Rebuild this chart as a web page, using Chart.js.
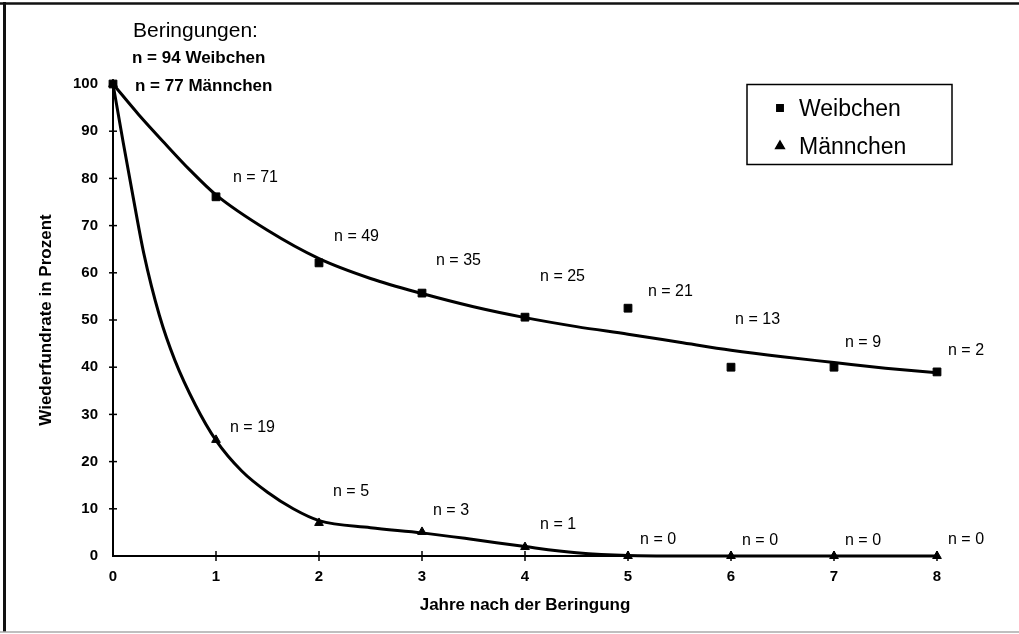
<!DOCTYPE html>
<html>
<head>
<meta charset="utf-8">
<script src="https://cdn.jsdelivr.net/npm/chart.js@4.4.0/dist/chart.umd.min.js"></script>
<style>
html,body{margin:0;padding:0;background:#fff;}
#wrap{width:1019px;height:634px;position:relative;}
</style>
</head>
<body>
<div id="wrap"><canvas id="c"></canvas></div>
<script>
// ---- data ----
const years = [0, 1, 2, 3, 4, 5, 6, 7, 8];
const weibchenValues = [100, 76.1, 62.1, 55.7, 50.6, 52.5, 40.0, 40.0, 39.0];
const maennchenValues = [100, 24.6, 7.0, 5.1, 1.9, 0, 0, 0, 0];
const weibchenN = [94, 71, 49, 35, 25, 21, 13, 9, 2];
const maennchenN = [77, 19, 5, 3, 1, 0, 0, 0, 0];

// fitted curves
const weibchenCurveX = [0, 0.25, 0.5, 0.75, 1, 1.5, 2, 2.5, 3, 3.5, 4, 4.5, 5, 5.5, 6, 6.5, 7, 7.5, 8];
const weibchenCurveY = [100, 93.5, 87.5, 81.7, 76.5, 69, 63, 58.8, 55.6, 52.8, 50.5, 48.6, 47, 45.3, 43.6, 42.2, 41, 39.8, 38.8];
const maennchenCurveX = [0, 0.1, 0.2, 0.3, 0.45, 0.6, 0.8, 1, 1.25, 1.5, 1.75, 2, 2.5, 3, 3.5, 4, 4.5, 5, 5.5, 6, 7, 8];
const maennchenCurveY = [100, 87.5, 75.5, 64, 51, 41.5, 32, 24.5, 18, 13.5, 10, 7.5, 6, 4.9, 3.5, 2, 0.7, 0.1, 0, 0, 0, 0];

// anchors (data units) of the "n = ..." annotations for years 1..8
const weibchenLabelX = [1.165, 2.146, 3.136, 4.146, 5.194, 6.04, 7.107, 8.107];
const weibchenLabelY = [80.1, 67.6, 62.5, 59.1, 56.1, 50.0, 45.3, 43.6];
const maennchenLabelX = [1.136, 2.136, 3.107, 4.146, 5.117, 6.107, 7.107, 8.107];
const maennchenLabelY = [27.3, 13.6, 9.7, 6.6, 3.4, 3.2, 3.2, 3.4];

const seriesNames = ['Weibchen', 'Männchen'];
const noteTitle = 'Beringungen:';
const noteLines = ['n = ' + weibchenN[0] + ' Weibchen', 'n = ' + maennchenN[0] + ' Männchen'];
const xTitle = 'Jahre nach der Beringung';
const yTitle = 'Wiederfundrate in Prozent';
const xTickValues = [0, 1, 2, 3, 4, 5, 6, 7, 8];
const yTickValues = [0, 10, 20, 30, 40, 50, 60, 70, 80, 90, 100];

const FONT = '"Liberation Sans", Arial, Helvetica, sans-serif';

const pts = (xs, ys) => xs.map((x, i) => ({x: x, y: ys[i]}));

const framePlugin = {
  id: 'frame',
  beforeDraw(chart) {
    const ctx = chart.ctx;
    ctx.save();
    ctx.fillStyle = '#fff';
    ctx.fillRect(0, 0, chart.width, chart.height);
    ctx.strokeStyle = '#111';
    ctx.lineWidth = 2.5;
    ctx.beginPath(); ctx.moveTo(0, 3.5); ctx.lineTo(chart.width, 3.5); ctx.stroke();
    ctx.lineWidth = 3;
    ctx.beginPath(); ctx.moveTo(4.5, 2); ctx.lineTo(4.5, 632); ctx.stroke();
    ctx.strokeStyle = '#aaa';
    ctx.lineWidth = 1.5;
    ctx.beginPath(); ctx.moveTo(0, 632); ctx.lineTo(chart.width, 632); ctx.stroke();
    ctx.restore();
  }
};

const decoPlugin = {
  id: 'deco',
  afterDraw(chart) {
    const {ctx, scales: {x, y}} = chart;
    ctx.save();
    ctx.strokeStyle = '#000';
    ctx.fillStyle = '#000';
    // cross tick marks
    ctx.lineWidth = 1.5;
    const x0 = x.getPixelForValue(0), y0 = y.getPixelForValue(0);
    yTickValues.forEach(v => {
      if (v === 0) return;
      const py = y.getPixelForValue(v);
      ctx.beginPath(); ctx.moveTo(x0 - 4, py); ctx.lineTo(x0 + 4, py); ctx.stroke();
    });
    xTickValues.forEach(v => {
      if (v === 0) return;
      const px = x.getPixelForValue(v);
      ctx.beginPath(); ctx.moveTo(px, y0 - 5); ctx.lineTo(px, y0 + 5); ctx.stroke();
    });
    // n labels
    ctx.font = '16px ' + FONT;
    ctx.textAlign = 'left';
    ctx.textBaseline = 'middle';
    for (let i = 1; i < years.length; i++) {
      ctx.fillText('n = ' + weibchenN[i], x.getPixelForValue(weibchenLabelX[i - 1]), y.getPixelForValue(weibchenLabelY[i - 1]));
      ctx.fillText('n = ' + maennchenN[i], x.getPixelForValue(maennchenLabelX[i - 1]), y.getPixelForValue(maennchenLabelY[i - 1]));
    }
    // top-left note
    ctx.textBaseline = 'alphabetic';
    ctx.font = '21px ' + FONT;
    ctx.fillText(noteTitle, 133, 37);
    ctx.font = 'bold 17px ' + FONT;
    ctx.fillText(noteLines[0], 132, 63);
    ctx.fillText(noteLines[1], 135, 91);
    // legend box
    ctx.lineWidth = 1.5;
    ctx.strokeRect(747, 84.5, 205, 80);
    const styles = ['rect', 'triangle'];
    const radii = [4.5, 5];
    const rows = [108, 146];
    ctx.font = '23px ' + FONT;
    for (let k = 0; k < 2; k++) {
      Chart.helpers.drawPoint(ctx, {pointStyle: styles[k], radius: radii[k], borderWidth: 1}, 780, rows[k]);
      ctx.fill();
      ctx.fillText(seriesNames[k], 799, rows[k] + 8);
    }
    ctx.restore();
  }
};

new Chart(document.getElementById('c'), {
  type: 'scatter',
  data: {
    datasets: [
      {
        label: seriesNames[0] + ' Kurve',
        data: pts(weibchenCurveX, weibchenCurveY),
        showLine: true, borderColor: '#000', borderWidth: 3,
        pointRadius: 0, cubicInterpolationMode: 'monotone', order: 3
      },
      {
        label: seriesNames[1] + ' Kurve',
        data: pts(maennchenCurveX, maennchenCurveY),
        showLine: true, borderColor: '#000', borderWidth: 3,
        pointRadius: 0, cubicInterpolationMode: 'monotone', order: 3
      },
      {
        label: seriesNames[0],
        data: pts(years, weibchenValues),
        showLine: false, pointStyle: 'rect', pointRadius: 5.5,
        backgroundColor: '#000', borderColor: '#000', order: 1
      },
      {
        label: seriesNames[1],
        data: pts(years, maennchenValues),
        showLine: false, pointStyle: 'triangle', pointRadius: 5,
        backgroundColor: '#000', borderColor: '#000', order: 1
      }
    ]
  },
  options: {
    responsive: true,
    maintainAspectRatio: false,
    animation: false,
    clip: false,
    layout: {padding: {top: 84, right: 82, left: 0, bottom: 0}},
    plugins: {legend: {display: false}, tooltip: {enabled: false}},
    scales: {
      x: {
        type: 'linear', min: 0, max: 8,
        afterBuildTicks: s => { s.ticks = xTickValues.map(v => ({value: v})); },
        afterFit: s => { s.height = 78; },
        grid: {display: true, drawOnChartArea: false, drawTicks: false},
        border: {display: true, color: '#000', width: 2},
        ticks: {color: '#000', font: {family: FONT, size: 15, weight: 'bold'}, padding: 12},
        title: {display: true, text: xTitle, color: '#000', font: {family: FONT, size: 17, weight: 'bold'}, padding: {top: 0, bottom: 18}}
      },
      y: {
        type: 'linear', min: 0, max: 100,
        afterBuildTicks: s => { s.ticks = yTickValues.map(v => ({value: v})); },
        afterFit: s => { s.width = 113; },
        grid: {display: true, drawOnChartArea: false, drawTicks: false},
        border: {display: true, color: '#000', width: 2},
        ticks: {color: '#000', font: {family: FONT, size: 15, weight: 'bold'}, padding: 15},
        title: {display: true, text: yTitle, color: '#000', font: {family: FONT, size: 17, weight: 'bold'}, padding: {top: 36, bottom: 0}}
      }
    }
  },
  plugins: [framePlugin, decoPlugin]
});
</script>
</body>
</html>
